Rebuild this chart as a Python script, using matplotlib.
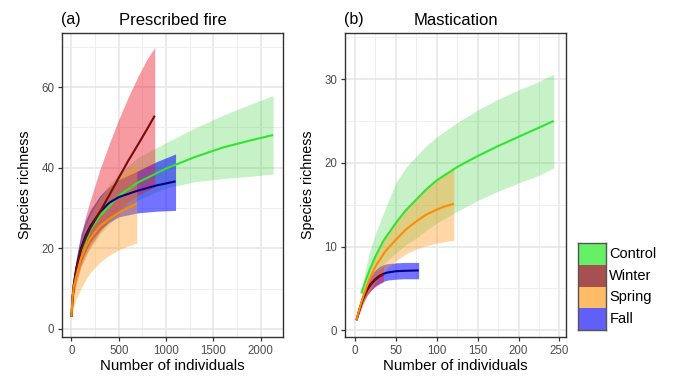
import numpy as np
import matplotlib
matplotlib.use("Agg")
import matplotlib.pyplot as plt
from matplotlib.ticker import MultipleLocator

plt.rcParams['font.family'] = ['Liberation Sans', 'DejaVu Sans']

groups = ['Control', 'Winter', 'Spring', 'Fall']
line_cols = {'Control': '#2EE62E', 'Winter': '#7A0A0A', 'Spring': '#FF8C00', 'Fall': '#00008B'}
fill_cols = {'Control': '#22CC22', 'Winter': '#EE1122', 'Spring': '#FF9A20', 'Fall': '#0000FF'}
fill_alpha = {'Control': 0.25, 'Winter': 0.42, 'Spring': 0.4, 'Fall': 0.55}
key_cols = ['#66F066', '#A85050', '#FFBB66', '#6060F8']

# (a) Prescribed fire
fire_n = {
    'Control': [1, 10, 25, 50, 100, 200, 300, 500, 700, 1000, 1300, 1600, 1900, 2130],
    'Winter': [1, 10, 25, 50, 100, 150, 200, 300, 400, 500, 600, 700, 800, 880],
    'Spring': [1, 10, 25, 50, 100, 150, 200, 300, 400, 500, 600, 690],
    'Fall': [1, 10, 25, 50, 100, 150, 200, 300, 400, 500, 700, 900, 1100],
}
fire_mean = {
    'Control': [3, 7.5, 10.5, 14, 19, 24.5, 28, 33, 36.3, 39.8, 42.6, 45, 46.8, 48.1],
    'Winter': [3, 7, 11, 14.5, 19.5, 22.5, 25, 29, 33.2, 37.5, 41.7, 45.6, 49.6, 52.9],
    'Spring': [3, 7.5, 10.5, 13, 17.5, 20.4, 22.5, 25.5, 27.3, 28.8, 30.1, 31.1],
    'Fall': [3, 7.5, 11, 15, 20, 23.2, 25.5, 29, 31.3, 32.7, 34.3, 35.6, 36.6],
}
fire_lo = {
    'Control': [3, 6.5, 8.5, 11, 15.5, 20, 23.5, 28.5, 32, 35, 36.5, 37.3, 37.9, 38.4],
    'Winter': [3, 6, 8.5, 11.5, 15.5, 18.3, 20.5, 24, 27, 29.5, 31.5, 33.2, 34.3, 35.2],
    'Spring': [3, 4.5, 5.5, 7.5, 10, 12.2, 14, 16.5, 18.3, 19.6, 20.6, 21.3],
    'Fall': [3, 6.5, 9, 12.5, 16.5, 19.3, 21.5, 24.5, 26.5, 27.8, 28.8, 29.2, 29.4],
}
fire_hi = {
    'Control': [3, 8.5, 12.5, 17, 22.5, 29, 33, 38.5, 42.5, 46.2, 49.8, 53, 55.8, 57.9],
    'Winter': [3, 8, 12, 17, 23, 28, 32, 39.5, 46, 52, 57.5, 62.5, 67, 69.8],
    'Spring': [3, 9, 13, 17, 22, 25.6, 28.5, 32.5, 35.5, 37.8, 39.5, 40.8],
    'Fall': [3, 8.5, 13, 17.5, 23.5, 27, 29.5, 33, 35.3, 37, 39.2, 41.5, 43.4],
}

# (b) Mastication
mast_n = {
    'Control': [8, 12, 18, 25, 35, 50, 62, 75, 87, 100, 125, 150, 175, 200, 225, 243],
    'Winter': [2, 6, 10, 15, 20, 25, 30, 35],
    'Spring': [2, 6, 10, 17, 25, 37, 50, 62, 75, 87, 100, 110, 121],
    'Fall': [2, 6, 10, 15, 20, 25, 30, 35, 40, 50, 60, 78],
}
mast_mean = {
    'Control': [4.4, 5.6, 7.2, 8.8, 10.7, 12.8, 14.3, 15.6, 16.8, 17.9, 19.5, 20.8,
                22.0, 23.1, 24.2, 25.0],
    'Winter': [1.2, 2.6, 3.8, 4.8, 5.5, 6.0, 6.4, 6.7],
    'Spring': [1.2, 2.7, 4, 5.9, 7.6, 9.4, 10.8, 12.0, 13.0, 13.8, 14.4, 14.8, 15.1],
    'Fall': [1.2, 2.6, 3.8, 4.9, 5.6, 6.1, 6.5, 6.75, 6.9, 7.05, 7.1, 7.15],
}
mast_lo = {
    'Control': [4.2, 4.8, 5.8, 6.8, 7.9, 9.2, 10.2, 11, 11.9, 12.8, 14.2, 15.5,
                16.6, 17.6, 18.5, 19.4],
    'Winter': [1.2, 2.2, 3.3, 4.2, 4.8, 5.2, 5.5, 5.8],
    'Spring': [1.2, 2.1, 3, 4.5, 5.8, 7.2, 8.3, 9.1, 9.7, 10.1, 10.4, 10.6, 10.75],
    'Fall': [1.2, 2.2, 3.3, 4.2, 4.8, 5.3, 5.6, 5.85, 6.0, 6.1, 6.15, 6.15],
}
mast_hi = {
    'Control': [4.6, 6.8, 9.4, 11.5, 14, 17.6, 19.4, 20.8, 22.0, 23.1, 24.8, 26.3,
                27.6, 28.7, 29.7, 30.6],
    'Winter': [1.2, 3.0, 4.3, 5.5, 6.3, 6.9, 7.3, 7.6],
    'Spring': [1.2, 3.1, 4.6, 6.9, 8.8, 11.0, 12.8, 14.3, 15.6, 16.8, 17.9, 18.7, 19.4],
    'Fall': [1.2, 3.0, 4.3, 5.6, 6.6, 7.2, 7.6, 7.85, 7.95, 8.05, 8.1, 8.1],
}

draw_order = ['Control', 'Fall', 'Winter', 'Spring']

fig = plt.figure(figsize=(6.75, 3.79), dpi=100)
ax_a = fig.add_axes([62 / 675, 1 - 337 / 379, 221 / 675, 304 / 379])
ax_b = fig.add_axes([345 / 675, 1 - 337 / 379, 221 / 675, 304 / 379])


def panel(ax, ns, means, los, his, xlim, ylim, xmaj, ymaj, tag, title):
    for g in draw_order:
        ax.fill_between(ns[g], los[g], his[g], color=fill_cols[g],
                        alpha=fill_alpha[g], lw=0, zorder=2)
        ax.plot(ns[g], means[g], color=line_cols[g], lw=1.5, zorder=3,
                solid_capstyle='butt', solid_joinstyle='round')
    ax.set_xlim(*xlim)
    ax.set_ylim(*ylim)
    ax.xaxis.set_major_locator(MultipleLocator(xmaj))
    ax.xaxis.set_minor_locator(MultipleLocator(xmaj / 2))
    ax.yaxis.set_major_locator(MultipleLocator(ymaj))
    ax.yaxis.set_minor_locator(MultipleLocator(ymaj / 2))
    ax.grid(which='major', color='#E6E6E6', lw=1.1, zorder=0)
    ax.grid(which='minor', color='#EFEFEF', lw=0.7, zorder=0)
    ax.set_axisbelow(True)
    ax.tick_params(which='major', length=3, width=0.9, color='#333333',
                   labelcolor='#4D4D4D', labelsize=8.3, pad=2.5)
    ax.tick_params(which='minor', length=0)
    for s in ax.spines.values():
        s.set_color('#333333')
        s.set_linewidth(1.0)
    ax.set_xlabel('Number of individuals', fontsize=10.8, labelpad=2)
    ax.set_ylabel('Species richness', fontsize=10.3, labelpad=7)
    ax.set_title(title, fontsize=12, pad=6)
    ax.text(-0.005, 1.0 + 6 / 304, tag, transform=ax.transAxes, fontsize=11.5,
            ha='left', va='bottom')


panel(ax_a, fire_n, fire_mean, fire_lo, fire_hi, (-100, 2235), (-2, 73.4),
      500, 20, '(a)', 'Prescribed fire')
panel(ax_b, mast_n, mast_mean, mast_lo, mast_hi, (-12, 258), (-0.8, 35.5),
      50, 10, '(b)', 'Mastication')

# legend
ax_l = fig.add_axes([578 / 675, 1 - 330 / 379, 28 / 675, 87 / 379])
ypos = np.arange(len(groups))[::-1]
ax_l.barh(ypos, [1] * len(groups), height=1.0, color=key_cols, edgecolor='none')
ax_l.set_xlim(0, 1)
ax_l.set_ylim(-0.5, len(groups) - 0.5)
ax_l.set_xticks([])
ax_l.set_yticks([])
for s in ax_l.spines.values():
    s.set_color('#555555')
    s.set_linewidth(1.0)
for y, g in zip(ypos, groups):
    ax_l.text(1.12, y, g, fontsize=10.5, va='center', ha='left',
              transform=ax_l.transData, clip_on=False)

fig.savefig('out.png', dpi=100)
